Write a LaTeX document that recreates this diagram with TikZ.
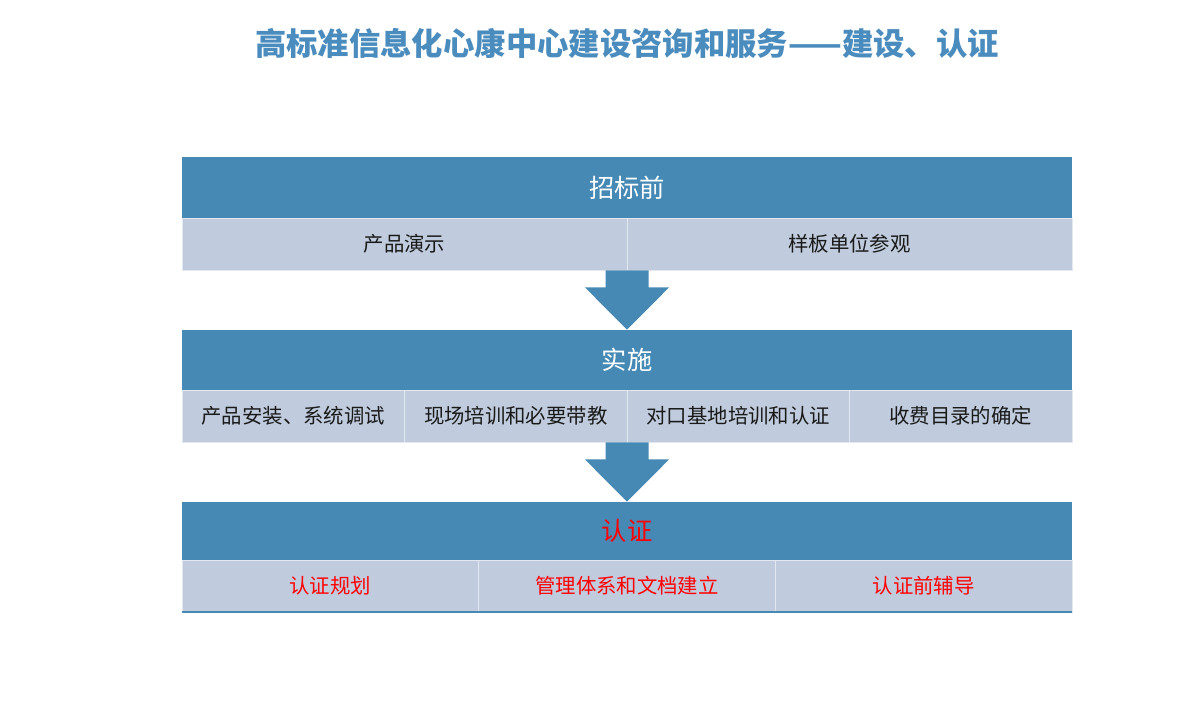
\documentclass[tikz,border=0pt]{standalone}
\usepackage{fontspec}
\setmainfont{Noto Sans CJK SC}
\usetikzlibrary{calc}
\definecolor{headblue}{RGB}{70,137,181}
\definecolor{cellgrey}{RGB}{192,204,221}
\definecolor{titleblue}{RGB}{74,140,190}
\tikzstyle{header}=[
        fill=headblue,
        text=white,
        inner sep=0pt,
        minimum width=22.25cm,
        font=\fontsize{18}{20}\selectfont
]
\tikzstyle{cell}=[
        fill=cellgrey,
        draw=white!55!cellgrey,
        line width=0.6pt,
        inner sep=0pt,
        minimum height=1.3cm,
        text=black!90,
        font=\fontsize{14.5}{16}\selectfont
]
\tikzstyle{flow}=[
        fill=headblue
]

\begin{document}
\begin{tikzpicture}[x=0.025cm,y=-0.025cm]
                    \useasboundingbox[fill=white] (0,0) rectangle (1200,700);

                    \node[font=\fontsize{22.3}{24}\selectfont\bfseries, text=titleblue] (title) at (627,43) {高标准信息化心康中心建设咨询和服务——建设、认证};

                    % stage one
                    \node[header, minimum height=1.52cm] (pre) at (627,187.5) {招标前};
                    \node[cell, minimum width=11.125cm] (pre1) at (404.5,244) {产品演示};
                    \node[cell, minimum width=11.125cm] (pre2) at (849.5,244) {样板单位参观};

                    % stage two
                    \node[header, minimum height=1.5cm] (impl) at (627,360) {实施};
                    \node[cell, minimum width=5.5625cm] (impl1) at (293.25,416) {产品安装、系统调试};
                    \node[cell, minimum width=5.5625cm] (impl2) at (515.75,416) {现场培训和必要带教};
                    \node[cell, minimum width=5.5625cm] (impl3) at (738.25,416) {对口基地培训和认证};
                    \node[cell, minimum width=5.5625cm] (impl4) at (960.75,416) {收费目录的确定};

                    % stage three
                    \node[header, minimum height=1.45cm, text=red] (cert) at (627,531) {认证};
                    \node[cell, minimum width=7.4167cm, text=red] (cert1) at (330.33,586) {认证规划};
                    \node[cell, minimum width=7.4167cm, text=red] (cert2) at (627,586) {管理体系和文档建立};
                    \node[cell, minimum width=7.4167cm, text=red] (cert3) at (923.67,586) {认证前辅导};
                    \draw[headblue, line width=1.4pt] (cert1.south west) -- (cert3.south east);

                    % arrows between the stages
                    \foreach \a/\b in {pre/impl, impl/cert} {
                        \coordinate (top) at (\a.south |- \a1.south);
                        \fill[flow] ($(top)+(-21.5,0)$) -- ($(top)+(21.5,0)$)
                            -- ($(top)+(21.5,17)$) -- ($(top)+(42,17)$)
                            -- (\b.north)
                            -- ($(top)+(-42,17)$) -- ($(top)+(-21.5,17)$) -- cycle;
                    }

                \end{tikzpicture}
\end{document}
